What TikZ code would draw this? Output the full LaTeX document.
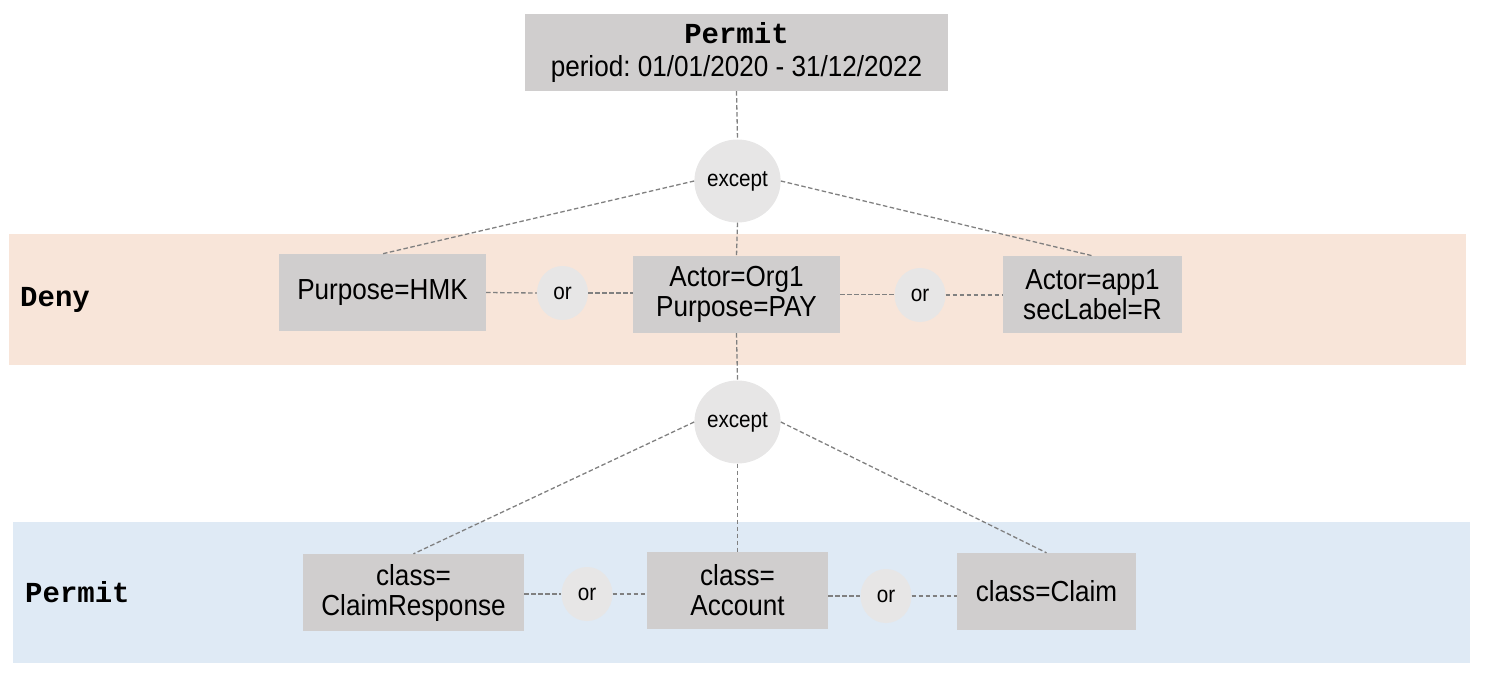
\documentclass[tikz,border=0pt]{standalone}
\usepackage{fontspec}
\setmainfont{Liberation Sans}[FakeStretch=0.9]
\newfontfamily\monob{Liberation Mono}
\usetikzlibrary{shapes.geometric}
\frenchspacing
\definecolor{boxgray}{HTML}{D0CECE}
\definecolor{ellgray}{HTML}{E7E6E6}
\definecolor{denyband}{HTML}{F8E5D9}
\definecolor{permband}{HTML}{DFEAF5}
\definecolor{linegray}{HTML}{808080}
\tikzset{
  rulebox/.style={rectangle, fill=boxgray, inner sep=0pt, align=center,
    font=\fontsize{29}{30}\selectfont},
  exceptnode/.style={ellipse, fill=ellgray, inner sep=0pt, minimum width=83pt, minimum height=83pt,
    font=\fontsize{23}{24}\selectfont},
  ornode/.style={ellipse, fill=ellgray, inner sep=0pt, minimum width=51pt, minimum height=54pt,
    font=\fontsize{23}{24}\selectfont},
  conn/.style={draw=linegray, line width=1.3pt, dash pattern=on 4.5pt off 2.5pt},
  bandlabel/.style={anchor=west, inner sep=0pt, font=\monob\bfseries\fontsize{29}{30}\selectfont},
}
\begin{document}
\begin{tikzpicture}[x=1pt,y=-1pt]
\useasboundingbox (0,0) rectangle (1488,682);
% bands
\fill[denyband] (9,234) rectangle (1466,365);
\fill[permband] (13,522) rectangle (1470,663);
\node[bandlabel] (denylabel) at (20,300) {Deny};
\node[bandlabel] (permlabel) at (25,592) {Permit};
% nodes
\node[rulebox, minimum width=423pt, minimum height=77pt] (top) at (736.5,52.5)
  {{\monob\bfseries\fontsize{29}{30}\selectfont Permit}\\[3pt]period: 01/01/2020 - 31/12/2022};
\node[exceptnode] (ex1) at (737.5,181) {except};
\node[rulebox, minimum width=207pt, minimum height=77pt] (hmk) at (382.5,292.5) {Purpose=HMK};
\node[ornode] (or1) at (562.5,293) {or};
\node[rulebox, minimum width=207pt, minimum height=77pt] (org) at (736.5,294.5) {Actor=Org1\\Purpose=PAY};
\node[ornode] (or2) at (920,295) {or};
\node[rulebox, minimum width=179pt, minimum height=77pt] (app) at (1092.5,294.5) {Actor=app1\\secLabel=R};
\node[exceptnode] (ex2) at (737.5,422) {except};
\node[rulebox, minimum width=221pt, minimum height=77pt] (cr) at (413.5,592.5) {class=\\ClaimResponse};
\node[ornode] (or3) at (587,594) {or};
\node[rulebox, minimum width=181pt, minimum height=77pt] (acc) at (737.5,590.5) {class=\\Account};
\node[ornode] (or4) at (886,596) {or};
\node[rulebox, minimum width=179pt, minimum height=77pt] (claim) at (1046.5,591.5) {class=Claim};
% connectors
\draw[conn] (top.south) -- (ex1.north);
\draw[conn] (ex1.west) -- (hmk.north);
\draw[conn] (ex1.south) -- (org.north);
\draw[conn] (ex1.east) -- (app.north);
\draw[conn] (hmk.east) -- (or1.west);
\draw[conn] (or1.east) -- (org.west |- or1.east);
\draw[conn] (org.east) -- (or2.west |- org.east);
\draw[conn] (or2.east) -- (app.west |- or2.east);
\draw[conn] (org.south) -- (ex2.north);
\draw[conn] (ex2.west) -- (cr.north);
\draw[conn] (ex2.south) -- (acc.north);
\draw[conn] (ex2.east) -- (claim.north);
\draw[conn] (cr.east |- or3.west) -- (or3.west);
\draw[conn] (or3.east) -- (acc.west |- or3.east);
\draw[conn] (acc.east |- or4.west) -- (or4.west);
\draw[conn] (or4.east) -- (claim.west |- or4.east);
\end{tikzpicture}
\end{document}
